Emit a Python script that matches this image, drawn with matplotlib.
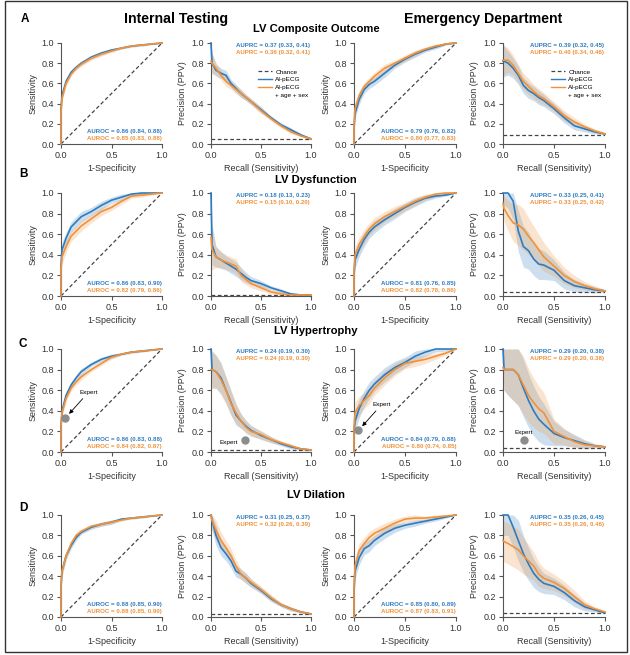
import numpy as np
import matplotlib
matplotlib.use("Agg")
import matplotlib.pyplot as plt
from matplotlib.lines import Line2D
from matplotlib.patches import Rectangle

plt.rcParams['font.family'] = ['Liberation Sans', 'DejaVu Sans']

BLUE = '#2f7bbf'
ORANGE = '#f0923a'
CHANCE = '#444444'
AXC = '#555555'

# --- shared x grids ---
fpr = [0, 0, 0.01, 0.05, 0.1, 0.15, 0.2, 0.3, 0.4, 0.5, 0.6, 0.7, 0.8, 0.9, 1.0]
recall = [0, 0.01, 0.05, 0.1, 0.15, 0.2, 0.25, 0.3, 0.35, 0.4, 0.5, 0.6, 0.7, 0.8, 0.9, 1.0]

# --- LV composite outcome ---
int_comp_roc_blue = [0, 0.35, 0.48, 0.62, 0.71, 0.76, 0.80, 0.86, 0.90, 0.93, 0.95, 0.97, 0.98, 0.99, 1.0]
int_comp_roc_orange = [0, 0.30, 0.45, 0.60, 0.69, 0.75, 0.79, 0.85, 0.89, 0.92, 0.95, 0.97, 0.98, 0.99, 1.0]
int_comp_roc_ci = [0, 0.04, 0.03, 0.03, 0.02, 0.02, 0.02, 0.02, 0.02, 0.015, 0.01, 0.01, 0.01, 0.005, 0]
int_comp_pr_blue = [1.0, 0.80, 0.73, 0.70, 0.68, 0.60, 0.55, 0.50, 0.46, 0.42, 0.34, 0.26, 0.19, 0.14, 0.09, 0.05]
int_comp_pr_orange = [0.82, 0.80, 0.75, 0.68, 0.62, 0.58, 0.54, 0.50, 0.46, 0.42, 0.33, 0.25, 0.18, 0.12, 0.08, 0.05]
int_comp_pr_ci = [0.15, 0.10, 0.06, 0.05, 0.05, 0.04, 0.04, 0.04, 0.03, 0.03, 0.03, 0.02, 0.02, 0.02, 0.01, 0.01]
ed_comp_roc_blue = [0, 0.15, 0.30, 0.44, 0.54, 0.59, 0.62, 0.70, 0.78, 0.84, 0.89, 0.93, 0.96, 0.99, 1.0]
ed_comp_roc_orange = [0, 0.20, 0.35, 0.48, 0.57, 0.62, 0.67, 0.75, 0.80, 0.85, 0.90, 0.94, 0.97, 0.99, 1.0]
ed_comp_roc_ci = [0, 0.05, 0.05, 0.05, 0.04, 0.04, 0.04, 0.04, 0.03, 0.03, 0.03, 0.02, 0.02, 0.01, 0]
ed_comp_pr_blue = [0.82, 0.82, 0.80, 0.75, 0.68, 0.58, 0.53, 0.50, 0.46, 0.43, 0.35, 0.26, 0.18, 0.15, 0.12, 0.10]
ed_comp_pr_orange = [0.83, 0.83, 0.83, 0.78, 0.70, 0.62, 0.57, 0.52, 0.48, 0.45, 0.37, 0.28, 0.22, 0.17, 0.13, 0.10]
ed_comp_pr_ci = [0.18, 0.15, 0.12, 0.10, 0.09, 0.08, 0.08, 0.07, 0.07, 0.06, 0.05, 0.05, 0.04, 0.03, 0.02, 0.01]

# --- LV dysfunction ---
int_dys_roc_blue = [0, 0.30, 0.45, 0.56, 0.67, 0.72, 0.77, 0.82, 0.88, 0.93, 0.96, 0.99, 1.0, 1.0, 1.0]
int_dys_roc_orange = [0, 0.25, 0.38, 0.48, 0.58, 0.63, 0.68, 0.75, 0.82, 0.86, 0.92, 0.97, 0.98, 0.99, 1.0]
int_dys_roc_ci = [0, 0.08, 0.07, 0.06, 0.05, 0.05, 0.05, 0.04, 0.04, 0.03, 0.03, 0.02, 0.02, 0.01, 0]
int_dys_pr_blue = [1.0, 0.50, 0.38, 0.35, 0.32, 0.29, 0.26, 0.22, 0.18, 0.15, 0.12, 0.08, 0.05, 0.02, 0.01, 0.01]
int_dys_pr_orange = [0.57, 0.45, 0.38, 0.35, 0.33, 0.31, 0.29, 0.20, 0.16, 0.12, 0.08, 0.04, 0.02, 0.01, 0.01, 0.01]
int_dys_pr_ci = [0.30, 0.20, 0.10, 0.08, 0.07, 0.07, 0.07, 0.06, 0.05, 0.04, 0.03, 0.02, 0.02, 0.01, 0.01, 0.0]
ed_dys_roc_blue = [0, 0.20, 0.35, 0.45, 0.55, 0.62, 0.67, 0.74, 0.80, 0.86, 0.91, 0.95, 0.97, 0.98, 1.0]
ed_dys_roc_orange = [0, 0.25, 0.40, 0.50, 0.58, 0.65, 0.70, 0.77, 0.82, 0.87, 0.92, 0.96, 0.99, 1.0, 1.0]
ed_dys_roc_ci = [0, 0.10, 0.08, 0.07, 0.07, 0.06, 0.06, 0.05, 0.05, 0.04, 0.04, 0.03, 0.02, 0.01, 0]
ed_dys_pr_blue = [1.0, 1.0, 1.0, 0.92, 0.63, 0.48, 0.44, 0.36, 0.31, 0.30, 0.25, 0.15, 0.10, 0.08, 0.06, 0.05]
ed_dys_pr_orange = [0.90, 0.85, 0.78, 0.71, 0.69, 0.65, 0.58, 0.52, 0.45, 0.38, 0.29, 0.20, 0.14, 0.10, 0.07, 0.05]
ed_dys_pr_ci = [0.10, 0.12, 0.15, 0.18, 0.20, 0.20, 0.18, 0.16, 0.15, 0.14, 0.10, 0.08, 0.06, 0.04, 0.03, 0.01]

# --- LV hypertrophy ---
int_hyp_roc_blue = [0, 0.25, 0.40, 0.55, 0.65, 0.72, 0.78, 0.85, 0.90, 0.93, 0.95, 0.97, 0.98, 0.99, 1.0]
int_hyp_roc_orange = [0, 0.25, 0.38, 0.52, 0.62, 0.68, 0.73, 0.80, 0.86, 0.92, 0.95, 0.97, 0.98, 0.99, 1.0]
int_hyp_roc_ci = [0, 0.05, 0.04, 0.03, 0.03, 0.03, 0.03, 0.02, 0.02, 0.02, 0.01, 0.01, 0.01, 0.005, 0]
int_hyp_pr_blue = [1.0, 0.80, 0.78, 0.72, 0.60, 0.48, 0.36, 0.30, 0.25, 0.21, 0.16, 0.12, 0.08, 0.05, 0.03, 0.02]
int_hyp_pr_orange = [0.80, 0.80, 0.78, 0.70, 0.60, 0.47, 0.38, 0.30, 0.24, 0.20, 0.17, 0.12, 0.09, 0.06, 0.03, 0.02]
int_hyp_pr_ci = [0.20, 0.18, 0.16, 0.15, 0.13, 0.12, 0.10, 0.07, 0.06, 0.05, 0.04, 0.03, 0.02, 0.02, 0.01, 0.01]
ed_hyp_roc_blue = [0, 0.20, 0.30, 0.42, 0.52, 0.60, 0.66, 0.75, 0.82, 0.87, 0.93, 0.97, 1.0, 1.0, 1.0]
ed_hyp_roc_orange = [0, 0.25, 0.38, 0.45, 0.50, 0.55, 0.62, 0.72, 0.80, 0.86, 0.88, 0.90, 0.93, 0.96, 1.0]
ed_hyp_roc_ci = [0, 0.12, 0.10, 0.09, 0.08, 0.08, 0.07, 0.07, 0.06, 0.05, 0.05, 0.04, 0.03, 0.02, 0]
ed_hyp_pr_blue = [1.0, 0.80, 0.80, 0.80, 0.75, 0.62, 0.50, 0.40, 0.32, 0.27, 0.18, 0.14, 0.11, 0.08, 0.06, 0.05]
ed_hyp_pr_orange = [0.82, 0.80, 0.80, 0.80, 0.75, 0.65, 0.55, 0.48, 0.42, 0.38, 0.20, 0.15, 0.10, 0.07, 0.06, 0.05]
ed_hyp_pr_ci = [0.20, 0.20, 0.25, 0.30, 0.30, 0.28, 0.26, 0.24, 0.22, 0.20, 0.12, 0.08, 0.06, 0.04, 0.02, 0.01]

# --- LV dilation ---
int_dil_roc_blue = [0, 0.30, 0.45, 0.60, 0.70, 0.78, 0.83, 0.88, 0.91, 0.93, 0.96, 0.97, 0.98, 0.99, 1.0]
int_dil_roc_orange = [0, 0.30, 0.45, 0.60, 0.72, 0.80, 0.84, 0.89, 0.91, 0.93, 0.95, 0.97, 0.98, 0.99, 1.0]
int_dil_roc_ci = [0, 0.06, 0.05, 0.04, 0.03, 0.03, 0.02, 0.02, 0.02, 0.02, 0.01, 0.01, 0.01, 0.005, 0]
int_dil_pr_blue = [1.0, 0.95, 0.80, 0.68, 0.62, 0.55, 0.45, 0.42, 0.38, 0.33, 0.26, 0.18, 0.12, 0.08, 0.05, 0.03]
int_dil_pr_orange = [1.0, 0.95, 0.85, 0.75, 0.68, 0.60, 0.50, 0.42, 0.38, 0.34, 0.27, 0.19, 0.12, 0.08, 0.05, 0.03]
int_dil_pr_ci = [0.10, 0.10, 0.10, 0.08, 0.07, 0.07, 0.06, 0.05, 0.05, 0.04, 0.03, 0.03, 0.02, 0.02, 0.01, 0.01]
ed_dil_roc_blue = [0, 0.25, 0.45, 0.58, 0.67, 0.70, 0.75, 0.82, 0.87, 0.90, 0.92, 0.94, 0.96, 0.98, 1.0]
ed_dil_roc_orange = [0, 0.30, 0.50, 0.65, 0.72, 0.78, 0.82, 0.87, 0.92, 0.96, 0.97, 0.97, 0.98, 0.99, 1.0]
ed_dil_roc_ci = [0, 0.10, 0.08, 0.07, 0.06, 0.06, 0.05, 0.05, 0.04, 0.03, 0.03, 0.02, 0.02, 0.01, 0]
ed_dil_pr_blue = [1.0, 1.0, 1.0, 0.88, 0.75, 0.62, 0.52, 0.43, 0.37, 0.33, 0.30, 0.24, 0.16, 0.10, 0.07, 0.04]
ed_dil_pr_orange = [0.75, 0.74, 0.72, 0.69, 0.66, 0.60, 0.55, 0.50, 0.42, 0.38, 0.34, 0.28, 0.20, 0.12, 0.08, 0.05]
ed_dil_pr_ci = [0.20, 0.20, 0.20, 0.20, 0.20, 0.18, 0.16, 0.14, 0.12, 0.10, 0.08, 0.07, 0.06, 0.04, 0.02, 0.01]

# prevalence (chance line of PR plots): internal, ED
prev_int = [0.05, 0.01, 0.02, 0.03]
prev_ed = [0.09, 0.04, 0.04, 0.04]

# metric labels
auroc_int = [("0.86 (0.84, 0.88)", "0.85 (0.83, 0.88)"), ("0.86 (0.83, 0.90)", "0.82 (0.79, 0.86)"),
             ("0.86 (0.83, 0.88)", "0.84 (0.82, 0.87)"), ("0.88 (0.85, 0.90)", "0.88 (0.85, 0.90)")]
auprc_int = [("0.37 (0.33, 0.41)", "0.36 (0.32, 0.41)"), ("0.18 (0.13, 0.23)", "0.15 (0.10, 0.20)"),
             ("0.24 (0.19, 0.30)", "0.24 (0.19, 0.30)"), ("0.31 (0.25, 0.37)", "0.32 (0.26, 0.39)")]
auroc_ed = [("0.79 (0.76, 0.82)", "0.80 (0.77, 0.83)"), ("0.81 (0.76, 0.85)", "0.82 (0.78, 0.86)"),
            ("0.84 (0.79, 0.88)", "0.80 (0.74, 0.85)"), ("0.85 (0.80, 0.89)", "0.87 (0.83, 0.91)")]
auprc_ed = [("0.39 (0.32, 0.45)", "0.40 (0.34, 0.46)"), ("0.33 (0.25, 0.41)", "0.33 (0.25, 0.42)"),
            ("0.29 (0.20, 0.38)", "0.29 (0.20, 0.38)"), ("0.35 (0.26, 0.45)", "0.35 (0.26, 0.46)")]

# expert operating points (hypertrophy row): (x, y)
expert_int_roc = (0.04, 0.33)
expert_int_pr = (0.335, 0.12)
expert_ed_roc = (0.04, 0.21)
expert_ed_pr = (0.205, 0.12)

row_titles = ["LV Composite Outcome", "LV Dysfunction", "LV Hypertrophy", "LV Dilation"]
row_letters = ["A", "B", "C", "D"]

roc_blue = [[int_comp_roc_blue, ed_comp_roc_blue], [int_dys_roc_blue, ed_dys_roc_blue],
            [int_hyp_roc_blue, ed_hyp_roc_blue], [int_dil_roc_blue, ed_dil_roc_blue]]
roc_orange = [[int_comp_roc_orange, ed_comp_roc_orange], [int_dys_roc_orange, ed_dys_roc_orange],
              [int_hyp_roc_orange, ed_hyp_roc_orange], [int_dil_roc_orange, ed_dil_roc_orange]]
roc_ci = [[int_comp_roc_ci, ed_comp_roc_ci], [int_dys_roc_ci, ed_dys_roc_ci],
          [int_hyp_roc_ci, ed_hyp_roc_ci], [int_dil_roc_ci, ed_dil_roc_ci]]
pr_blue = [[int_comp_pr_blue, ed_comp_pr_blue], [int_dys_pr_blue, ed_dys_pr_blue],
           [int_hyp_pr_blue, ed_hyp_pr_blue], [int_dil_pr_blue, ed_dil_pr_blue]]
pr_orange = [[int_comp_pr_orange, ed_comp_pr_orange], [int_dys_pr_orange, ed_dys_pr_orange],
             [int_hyp_pr_orange, ed_hyp_pr_orange], [int_dil_pr_orange, ed_dil_pr_orange]]
pr_ci = [[int_comp_pr_ci, ed_comp_pr_ci], [int_dys_pr_ci, ed_dys_pr_ci],
         [int_hyp_pr_ci, ed_hyp_pr_ci], [int_dil_pr_ci, ed_dil_pr_ci]]

W, H = 630, 655
col_px = [(61, 162), (211, 311), (354, 456), (503, 605)]
row_px = [(43, 144), (193, 296), (349, 452), (515, 617)]


def style_axis(ax, xlabel, ylabel):
    ax.set_xlim(0, 1)
    ax.set_ylim(0, 1)
    ax.set_xticks([0, 0.5, 1.0])
    ax.set_yticks([0, 0.2, 0.4, 0.6, 0.8, 1.0])
    ax.xaxis.set_major_formatter('{x:.1f}')
    ax.yaxis.set_major_formatter('{x:.1f}')
    for s in ['top', 'right']:
        ax.spines[s].set_visible(False)
    for s in ['left', 'bottom']:
        ax.spines[s].set_color(AXC)
        ax.spines[s].set_linewidth(0.8)
    ax.tick_params(labelsize=6.5, length=3, width=0.8, pad=2, color=AXC, labelcolor='#333333')
    ax.set_xlabel(xlabel, fontsize=6.5, labelpad=3, color='#333333')
    ax.set_ylabel(ylabel, fontsize=6.5, labelpad=3, color='#333333')
    ax.patch.set_alpha(0)


def draw_curves(ax, x, yb, yo, ci):
    x = np.array(x)
    ci = np.array(ci)
    for y, c in [(np.array(yb), BLUE), (np.array(yo), ORANGE)]:
        ax.fill_between(x, np.clip(y - ci, 0, 1), np.clip(y + ci, 0, 1), color=c, alpha=0.24, lw=0)
    ax.plot(x, yb, color=BLUE, lw=1.2, clip_on=False, zorder=3)
    ax.plot(x, yo, color=ORANGE, lw=1.2, clip_on=False, zorder=4)


def add_legend(ax):
    handles = [Line2D([], [], color=CHANCE, lw=0.9, ls=(0, (3, 2))),
               Line2D([], [], color=BLUE, lw=1.0),
               Line2D([], [], color=ORANGE, lw=1.0),
               Line2D([], [], color='none')]
    ax.legend(handles, ["Chance", "AI-pECG", "AI-pECG", "+ age + sex"], loc='center left',
              bbox_to_anchor=(0.44, 0.6), frameon=False, fontsize=4.6, handlelength=2.2,
              handletextpad=0.5, labelspacing=0.35, borderpad=0)


fig = plt.figure(figsize=(W / 100, H / 100), dpi=100)

for r in range(4):
    y0, y1 = row_px[r]
    for c in range(4):
        x0, x1 = col_px[c]
        ax = fig.add_axes([x0 / W, 1 - y1 / H, (x1 - x0) / W, (y1 - y0) / H])
        site = c // 2
        if c % 2 == 0:
            draw_curves(ax, fpr, roc_blue[r][site], roc_orange[r][site], roc_ci[r][site])
            ax.plot([0, 1], [0, 1], color=CHANCE, lw=0.9, ls=(0, (3, 2)), zorder=2)
            style_axis(ax, "1-Specificity", "Sensitivity")
            labels = (auroc_int if site == 0 else auroc_ed)[r]
            ax.text(1.0, 0.12, "AUROC = " + labels[0], color=BLUE, fontsize=4.4,
                    fontweight='bold', ha='right', va='center')
            ax.text(1.0, 0.05, "AUROC = " + labels[1], color=ORANGE, fontsize=4.4,
                    fontweight='bold', ha='right', va='center')
            if r == 2:
                ex, ey = expert_int_roc if site == 0 else expert_ed_roc
                ax.plot(ex, ey, 'o', color='#8c8c8c', ms=5, zorder=5)
                ax.annotate("Expert", xy=(ex + 0.04, ey + 0.04), xytext=(ex + 0.14, ey + 0.25),
                            fontsize=4.6, ha='left', va='center',
                            arrowprops=dict(arrowstyle='-|>', color='black', lw=0.6,
                                            mutation_scale=6, shrinkA=1, shrinkB=0))
        else:
            prev = (prev_int if site == 0 else prev_ed)[r]
            draw_curves(ax, recall, pr_blue[r][site], pr_orange[r][site], pr_ci[r][site])
            ax.plot([0, 1], [prev, prev], color=CHANCE, lw=0.9, ls=(0, (3, 2)), zorder=2)
            style_axis(ax, "Recall (Sensitivity)", "Precision (PPV)")
            labels = (auprc_int if site == 0 else auprc_ed)[r]
            ax.text(0.99, 0.98, "AUPRC = " + labels[0], color=BLUE, fontsize=4.4,
                    fontweight='bold', ha='right', va='center')
            ax.text(0.99, 0.91, "AUPRC = " + labels[1], color=ORANGE, fontsize=4.4,
                    fontweight='bold', ha='right', va='center')
            if r == 0:
                add_legend(ax)
            if r == 2:
                ex, ey = expert_int_pr if site == 0 else expert_ed_pr
                ax.plot(ex, ey, 'o', color='#8c8c8c', ms=5, zorder=5)
                if site == 0:
                    ax.text(ex - 0.06, ey - 0.03, "Expert", fontsize=4.6, ha='right', va='center')
                else:
                    ax.text(ex, ey + 0.07, "Expert", fontsize=4.6, ha='center', va='center')

# titles and letters
fig.text(25 / W, 1 - 19 / H, "A", fontsize=8.5, fontweight='bold', ha='center', va='center')
fig.text(176 / W, 1 - 19 / H, "Internal Testing", fontsize=10.2, fontweight='bold', ha='center', va='center')
fig.text(483 / W, 1 - 19 / H, "Emergency Department", fontsize=10.2, fontweight='bold', ha='center', va='center')
letter_y = [19, 174, 344, 508]
title_y = [29, 180, 331, 495]
for r in range(4):
    if r > 0:
        fig.text(23 / W, 1 - letter_y[r] / H, row_letters[r], fontsize=8.5, fontweight='bold',
                 ha='center', va='center')
    fig.text(316 / W, 1 - title_y[r] / H, row_titles[r], fontsize=8.1, fontweight='bold',
             ha='center', va='center')

fig.patches.append(Rectangle((5 / W, 3 / H), 622 / W, 651 / H, transform=fig.transFigure,
                             fill=False, edgecolor='#333333', lw=1.0))

fig.savefig("out.png", dpi=100)
